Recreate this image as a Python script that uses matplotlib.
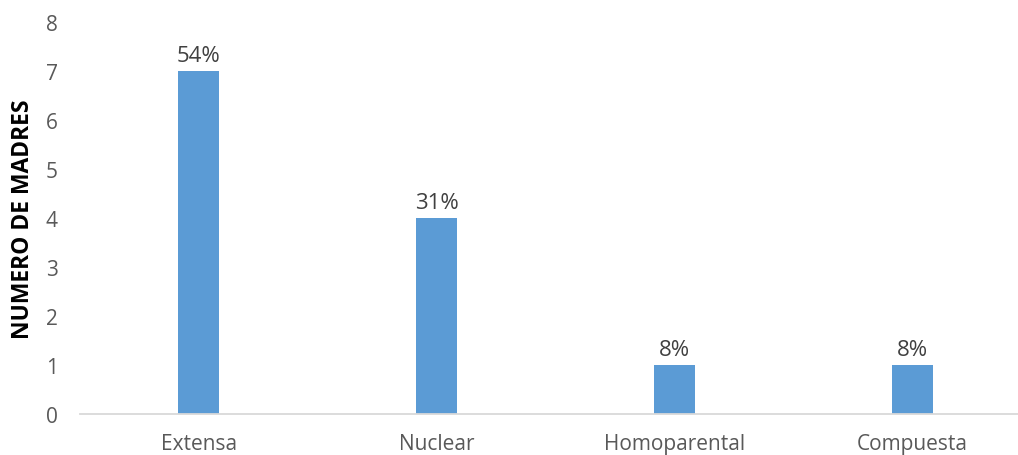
import matplotlib.pyplot as plt

categorias = ['Extensa', 'Nuclear', 'Homoparental', 'Compuesta']
madres = [7, 4, 1, 1]
porcentajes = ['54%', '31%', '8%', '8%']

plt.rcParams['font.family'] = ['Open Sans', 'DejaVu Sans']

fig = plt.figure(figsize=(10.18, 4.56), dpi=100)
# axes extends past the right edge, like the cropped original
ax = fig.add_axes([80 / 1018, 41 / 456, 951 / 1018, 392 / 456])

x = range(len(categorias))
bars = ax.bar(x, madres, width=0.173, color='#5B9BD5')
for b, p in zip(bars, porcentajes):
    ax.text(b.get_x() + b.get_width() / 2, b.get_height() + 0.1, p,
            ha='center', va='bottom', fontsize=16, color='#404040')

ax.set_xlim(-0.5, 3.5)
ax.set_ylim(0, 8)
ax.set_yticks(range(9))
ax.set_xticks(list(x))
ax.set_xticklabels(categorias)
ax.tick_params(axis='both', length=0, labelsize=15, colors='#595959')
ax.tick_params(axis='x', pad=14)
ax.tick_params(axis='y', pad=16)

for s in ['top', 'right', 'left']:
    ax.spines[s].set_visible(False)
ax.spines['bottom'].set_color('#D9D9D9')
ax.spines['bottom'].set_linewidth(1.3)

ax.set_ylabel('NUMERO DE MADRES', fontsize=16.5, fontweight='bold', color='black', labelpad=8)

fig.savefig('out.png', dpi=100)
